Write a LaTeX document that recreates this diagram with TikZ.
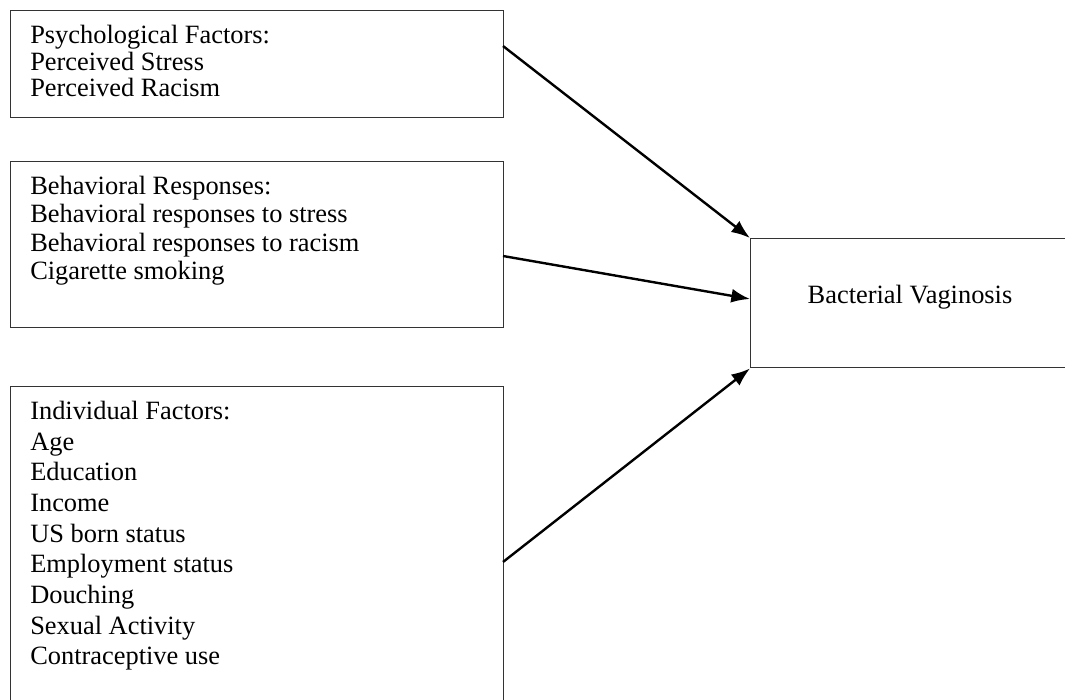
\documentclass[tikz,border=0pt]{standalone}
\usepackage{fontspec}
\setmainfont{Liberation Serif}
\usetikzlibrary{arrows.meta}

\begin{document}
\begin{tikzpicture}
                    [
                        x=0.75pt, y=-0.75pt,
                        factorbox/.style={draw=black!80, line width=1.1pt, rectangle, inner sep=0pt, anchor=north west},
                        factortext/.style={anchor=north west, inner sep=0pt, align=left},
                        pfeil/.style={line width=1.8pt, -{Latex[length=14pt,width=10.5pt]}}
                    ]

                    % Rahmen
                    \clip (0,0) rectangle (1065,700);

                    \node[factorbox, minimum width=369.75pt, minimum height=80.25pt] (psych) at (10,10) {};
                    \node[factorbox, minimum width=369.75pt, minimum height=124.5pt] (behav) at (10,161) {};
                    \node[factorbox, minimum width=369.75pt, minimum height=300pt] (indiv) at (10,386) {};
                    \node[factorbox, minimum width=300pt, minimum height=96.75pt] (bv) at (750,238) {};

                    \node[factortext, font=\fontsize{19.8pt}{20pt}\selectfont] (psychtext) at (30,25)
                        {Psychological Factors:\\ Perceived Stress\\ Perceived Racism};
                    \node[factortext, font=\fontsize{19.8pt}{21.2pt}\selectfont] (behavtext) at (30,176)
                        {Behavioral Responses:\\ Behavioral responses to stress\\ Behavioral responses to racism\\ Cigarette smoking};
                    \node[factortext, font=\fontsize{19.8pt}{23pt}\selectfont] (indivtext) at (30,401)
                        {Individual Factors:\\ Age\\ Education\\ Income\\ US born status\\ Employment status\\ Douching\\ Sexual Activity\\ Contraceptive use};
                    \node[anchor=base, inner sep=0pt, font=\fontsize{19.8pt}{23pt}\selectfont] (bvtext) at (910,303)
                        {Bacterial Vaginosis};

                    \coordinate (psychout) at (503,46);
                    \coordinate (behavout) at (503,256);
                    \coordinate (indivout) at (503,562);
                    \coordinate (bvin) at (750,299);

                    \draw[pfeil] (psychout) -- (bv.north west);
                    \draw[pfeil] (behavout) -- (bvin);
                    \draw[pfeil] (indivout) -- (bv.south west);
                \end{tikzpicture}
\end{document}
